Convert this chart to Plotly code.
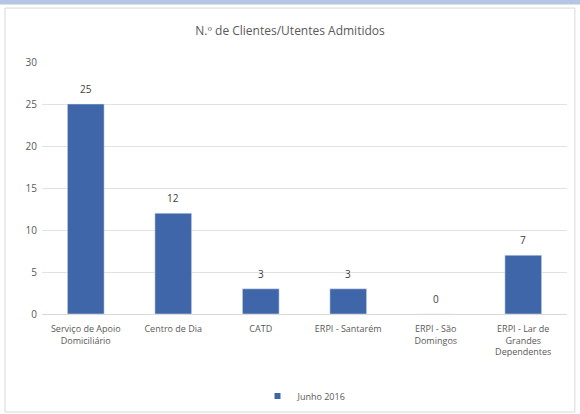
import plotly.graph_objects as go

categories = [
    "Serviço de Apoio<br>Domiciliário",
    "Centro de Dia",
    "CATD",
    "ERPI - Santarém",
    "ERPI - São<br>Domingos",
    "ERPI - Lar de<br>Grandes<br>Dependentes",
]
values = [25, 12, 3, 3, 0, 7]
series_name = "Junho 2016"
y_ticks = [0, 5, 10, 15, 20, 25, 30]

BAR = "#3f66a8"
TXT = "#595959"
FONT = "Open Sans, Liberation Sans, sans-serif"

fig = go.Figure()
fig.add_trace(go.Bar(
    x=categories,
    y=values,
    name=series_name,
    marker=dict(color=BAR),
    width=0.42,
    showlegend=False,
))
# value labels above each bar
for c, v in zip(categories, values):
    fig.add_annotation(x=c, y=v, text=str(v), showarrow=False, yshift=15,
                       font=dict(size=10, color="#404040", family=FONT))
# legend entry with a small square swatch
fig.add_trace(go.Scatter(
    x=[None], y=[None], mode="markers", name=series_name,
    marker=dict(symbol="square", size=6, color=BAR),
    showlegend=True,
))

# card frame and top band
fig.add_shape(type="rect", xref="paper", yref="paper",
              x0=-0.0705, x1=1.015, y0=-0.389, y1=1.214,
              line=dict(color="#d9d9d9", width=1), fillcolor="white", layer="below")
fig.add_shape(type="rect", xref="paper", yref="paper",
              x0=-0.09, x1=1.03, y0=1.228, y1=1.25,
              line=dict(width=0), fillcolor="#b4c6e4", layer="below")

fig.update_layout(
    width=580, height=414,
    margin=dict(l=42, r=13, t=62, b=100, autoexpand=False),
    paper_bgcolor="white",
    plot_bgcolor="#f6f6f6",
    font=dict(family=FONT, size=9, color=TXT),
    title=dict(text="N.º de Clientes/Utentes Admitidos", x=0.5, xanchor="center",
               y=1 - 31 / 414, yanchor="middle", yref="container",
               font=dict(size=12, color=TXT, family=FONT)),
    xaxis=dict(showgrid=False, showline=True, linecolor="#d9d9d9", automargin=False,
               tickfont=dict(size=9, color=TXT), ticks="", ticklabelstandoff=6),
    yaxis=dict(range=[0, 30], tickvals=y_ticks, showgrid=True, gridcolor="#e2e2e2",
               zeroline=False, showline=False, automargin=False,
               tickfont=dict(size=10, color=TXT), ticks="", ticklabelstandoff=4),
    legend=dict(orientation="h", x=0.5, xanchor="center",
                y=1 - 396 / 414, yanchor="middle", yref="container",
                font=dict(size=9, color=TXT), bgcolor="rgba(0,0,0,0)",
                itemwidth=30),
    bargap=0.58,
)

fig.write_html("out.html")
